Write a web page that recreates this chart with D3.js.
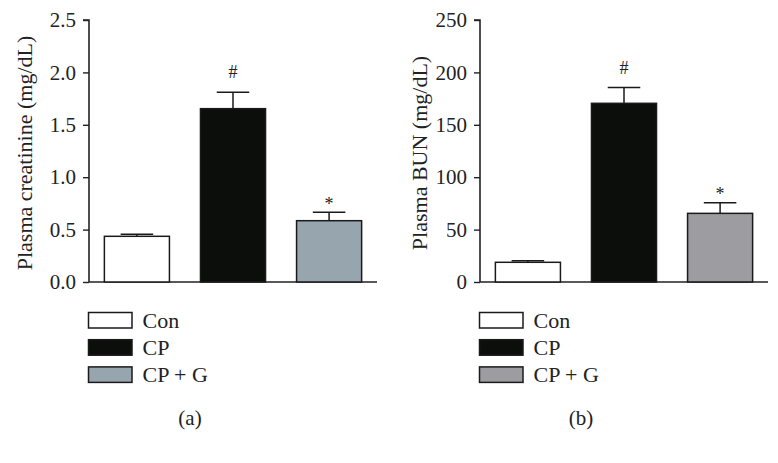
<!DOCTYPE html>
<html><head><meta charset="utf-8">
<script src="https://cdn.jsdelivr.net/npm/d3@7"></script>
<style>body{margin:0;background:#fff}svg{display:block}</style>
</head><body>
<script>
const categories = ["Con", "CP", "CP + G"];
const creatinineMean = [0.436, 1.654, 0.585];
const creatinineErr = [0.019, 0.156, 0.08];
const bunMean = [18.8, 170.5, 65.5];
const bunErr = [1.5, 15.0, 10.2];
const creatinineMarks = ["", "#", "*"];
const bunMarks = ["", "#", "*"];
const creatinineTicks = [0, 0.5, 1.0, 1.5, 2.0, 2.5];
const bunTicks = [0, 50, 100, 150, 200, 250];
const colorsA = ["#ffffff", "#0c0e0c", "#97a6ae"];
const colorsB = ["#ffffff", "#0c0e0c", "#9c9ca1"];

const W = 778, H = 463;
const svg = d3.select("body").append("svg").attr("width", W).attr("height", H);
const FONT = "'Liberation Serif','Times New Roman',serif";

function panel(opt) {
  const g = svg.append("g");
  const x = d3.scaleBand().domain(categories).range([opt.x0, opt.x0 + 288]).paddingInner(0.323).paddingOuter(0.16);
  const y = d3.scaleLinear().domain([0, opt.max]).range([282, 20]);
  // y axis
  const ya = g.append("g").attr("transform", `translate(${opt.x0},0)`)
    .call(d3.axisLeft(y).tickValues(opt.ticks).tickFormat(opt.fmt).tickSize(6).tickPadding(7));
  ya.select(".domain").attr("stroke", "#222").attr("stroke-width", 1.6).attr("d", `M-6,${y(opt.max)}H0V${y(0)}`);
  ya.selectAll(".tick line").attr("stroke", "#222").attr("stroke-width", 1.4);
  ya.selectAll(".tick text").attr("font-family", FONT).attr("font-size", 21).attr("fill", "#222");
  // x axis line
  g.append("line").attr("x1", opt.x0).attr("x2", opt.x0 + 288).attr("y1", y(0)).attr("y2", y(0))
    .attr("stroke", "#222").attr("stroke-width", 1.6);
  // error bars
  categories.forEach((c, i) => {
    const cx = x(c) + x.bandwidth() / 2;
    const top = y(opt.mean[i] + opt.err[i]);
    g.append("line").attr("x1", cx).attr("x2", cx).attr("y1", y(opt.mean[i])).attr("y2", top)
      .attr("stroke", "#1a1a1a").attr("stroke-width", 1.5);
    g.append("line").attr("x1", cx - x.bandwidth() / 4).attr("x2", cx + x.bandwidth() / 4).attr("y1", top).attr("y2", top)
      .attr("stroke", "#1a1a1a").attr("stroke-width", 1.5);
    if (opt.marks[i]) {
      const off = opt.marks[i] === "#" ? 14 : 2.5;
      g.append("text").attr("x", cx).attr("y", top - off).attr("text-anchor", "middle")
        .attr("font-family", FONT).attr("font-size", 18).attr("fill", "#222").text(opt.marks[i]);
    }
  });
  // bars
  g.selectAll("rect.bar").data(categories).join("rect").attr("class", "bar")
    .attr("x", d => x(d)).attr("width", x.bandwidth())
    .attr("y", (d, i) => y(opt.mean[i])).attr("height", (d, i) => y(0) - y(opt.mean[i]))
    .attr("fill", (d, i) => opt.colors[i]).attr("stroke", "#1a1a1a").attr("stroke-width", 1.5);
  // y label
  g.append("text").attr("transform", `translate(${opt.lx},153) rotate(-90)`).attr("text-anchor", "middle")
    .attr("font-family", FONT).attr("font-size", 22).attr("fill", "#222").text(opt.label);
  // legend
  categories.forEach((c, i) => {
    const yy = 312.5 + i * 27.2;
    g.append("rect").attr("x", opt.x0 - 0.5).attr("y", yy).attr("width", 43.5).attr("height", 15.5)
      .attr("fill", opt.colors[i]).attr("stroke", "#1a1a1a").attr("stroke-width", 1.5);
    g.append("text").attr("x", opt.x0 + 53.5).attr("y", yy + 15.5).attr("font-family", FONT)
      .attr("font-size", 22).attr("fill", "#222").text(c);
  });
  g.append("text").attr("x", opt.x0 + 101).attr("y", 425).attr("text-anchor", "middle")
    .attr("font-family", FONT).attr("font-size", 21).attr("fill", "#222").text(opt.tag);
}

panel({x0: 89, max: 2.5, ticks: creatinineTicks, fmt: d3.format(".1f"), mean: creatinineMean, err: creatinineErr,
  marks: creatinineMarks, colors: colorsA, label: "Plasma creatinine (mg/dL)", lx: 32, tag: "(a)"});
panel({x0: 480, max: 250, ticks: bunTicks, fmt: d3.format("d"), mean: bunMean, err: bunErr,
  marks: bunMarks, colors: colorsB, label: "Plasma BUN (mg/dL)", lx: 427, tag: "(b)"});
</script>
</body></html>
